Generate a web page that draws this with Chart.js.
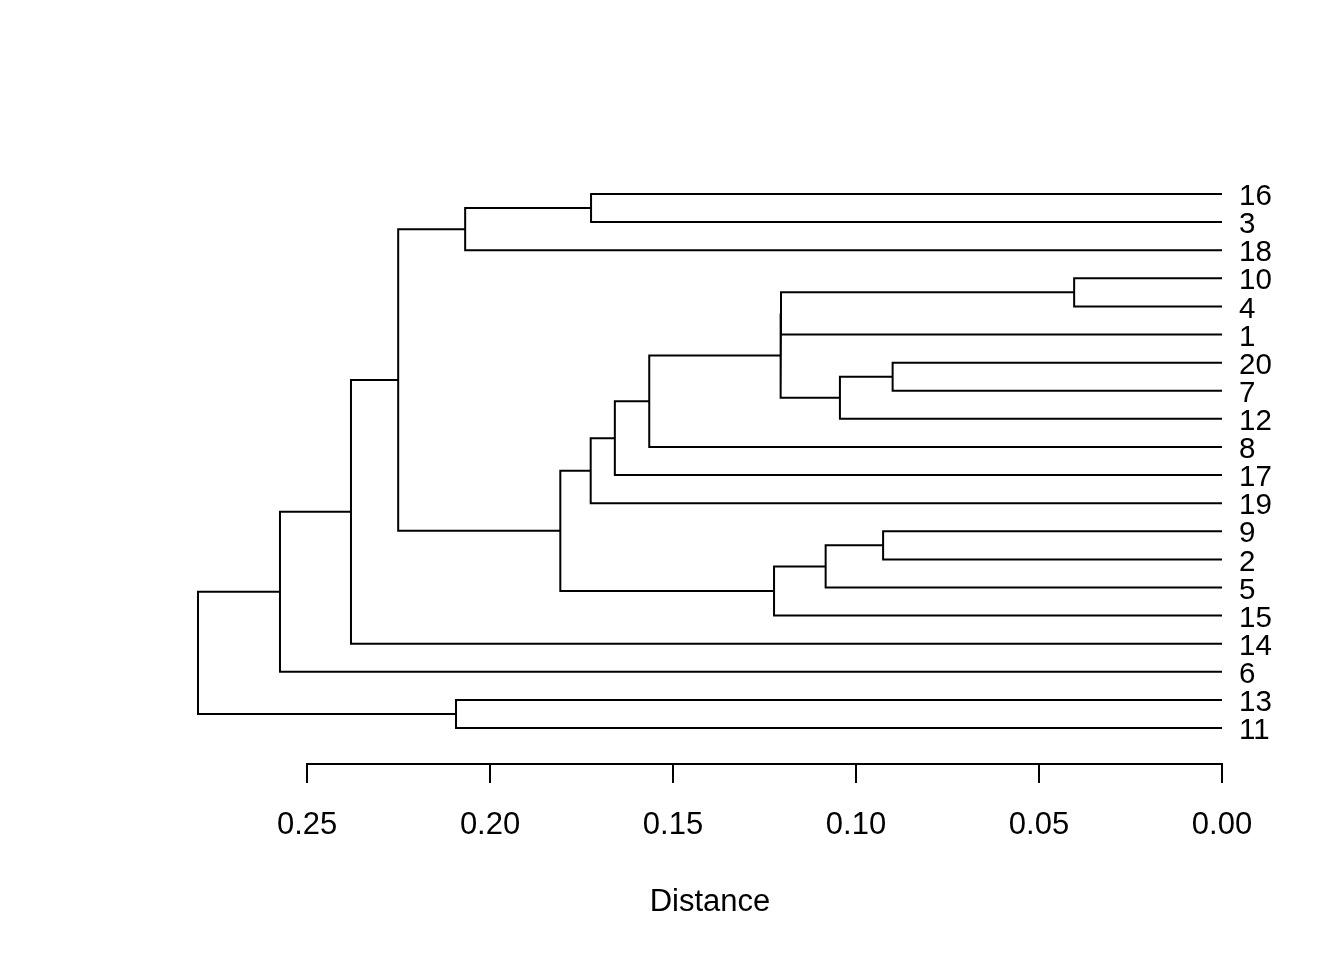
<!DOCTYPE html>
<html>
<head>
<meta charset="utf-8">
<script src="https://cdn.jsdelivr.net/npm/chart.js@4"></script>
<style>
  html, body { margin: 0; padding: 0; background: #fff; }
  #wrap { width: 1344px; height: 960px; }
</style>
</head>
<body>
<div id="wrap"><canvas id="c" width="1344" height="960"></canvas></div>
<script>
// Leaf order from top to bottom
const leafOrder = ["16","3","18","10","4","1","20","7","12","8","17","19","9","2","5","15","14","6","13","11"];
// Merge steps (hclust style): negative = leaf label number, positive = earlier merge step (1-based)
const mergeLeft   = [-10, -20, -9, 2, 3, 1, 6, 5, 7, 9, -16, 10, 12, 11, -13, 14, 16, 17, 18];
const mergeRight  = [-4, -7, -2, -12, -5, -1, 4, -15, -8, -17, -3, -19, 8, -18, -11, 13, -14, -6, 15];
const mergeHeight = [0.0404, 0.0900, 0.0926, 0.1044, 0.1083, 0.1205, 0.1206, 0.1224, 0.1565, 0.1659,
                     0.1724, 0.1725, 0.1808, 0.2068, 0.2093, 0.2251, 0.2380, 0.2574, 0.2798];
// Axis ticks
const xTicks = [0, 0.05, 0.10, 0.15, 0.20, 0.25];
const xTitle = "Distance";

// Build node positions
const nodeY = [], nodeH = [];
function childPos(ref) {
  if (ref < 0) return { y: leafOrder.indexOf(String(-ref)), h: 0 };
  return { y: nodeY[ref - 1], h: nodeH[ref - 1] };
}
const datasets = [];
for (let i = 0; i < mergeHeight.length; i++) {
  const a = childPos(mergeLeft[i]);
  const b = childPos(mergeRight[i]);
  const h = mergeHeight[i];
  nodeY.push((a.y + b.y) / 2);
  nodeH.push(h);
  datasets.push({
    data: [{ x: a.h, y: a.y }, { x: h, y: a.y }, { x: h, y: b.y }, { x: b.h, y: b.y }],
    showLine: true,
    borderColor: '#000',
    borderWidth: 2,
    pointRadius: 0,
    fill: false,
    tension: 0,
    clip: false
  });
}
const rootH = mergeHeight[mergeHeight.length - 1];
const fam = '"Liberation Sans", Arial, Helvetica, sans-serif';

const axisLinePlugin = {
  id: 'axisLine',
  afterDraw(chart) {
    const xs = chart.scales.x;
    const ctx = chart.ctx;
    const y = chart.chartArea.bottom;
    ctx.save();
    ctx.strokeStyle = '#000';
    ctx.lineWidth = 2;
    ctx.beginPath();
    ctx.moveTo(xs.getPixelForValue(xTicks[xTicks.length - 1]) - 1, y);
    ctx.lineTo(xs.getPixelForValue(xTicks[0]) + 1, y);
    ctx.stroke();
    ctx.restore();
  }
};

new Chart(document.getElementById('c'), {
  type: 'scatter',
  data: { datasets },
  plugins: [axisLinePlugin],
  options: {
    responsive: false,
    animation: false,
    layout: { padding: { left: 198, top: 194, right: 0, bottom: 0 } },
    plugins: { legend: { display: false }, tooltip: { enabled: false } },
    scales: {
      x: {
        type: 'linear',
        reverse: true,
        min: 0,
        max: rootH,
        position: 'bottom',
        afterBuildTicks(scale) { scale.ticks = xTicks.map(v => ({ value: v })); },
        afterFit(scale) { scale.height = 196; },
        border: { display: false },
        grid: { drawOnChartArea: false, drawTicks: true, tickLength: 19, color: '#000', lineWidth: 2 },
        ticks: {
          autoSkip: false,
          maxRotation: 0,
          padding: 24,
          color: '#000',
          font: { family: fam, size: 31 },
          callback: v => Number(v).toFixed(2)
        },
        title: {
          display: true,
          text: xTitle,
          color: '#000',
          font: { family: fam, size: 31 },
          padding: { top: 0, bottom: 39 }
        }
      },
      y: {
        type: 'linear',
        reverse: true,
        min: 0,
        max: 20.28,
        position: 'right',
        afterBuildTicks(scale) { scale.ticks = leafOrder.map((_, i) => ({ value: i })); },
        afterFit(scale) { scale.width = 122; },
        border: { display: false },
        grid: { display: false, drawTicks: false },
        ticks: {
          autoSkip: false,
          padding: 17,
          labelOffset: 3,
          color: '#000',
          font: { family: fam, size: 29.5 },
          callback: v => leafOrder[v]
        }
      }
    }
  }
});
</script>
</body>
</html>
